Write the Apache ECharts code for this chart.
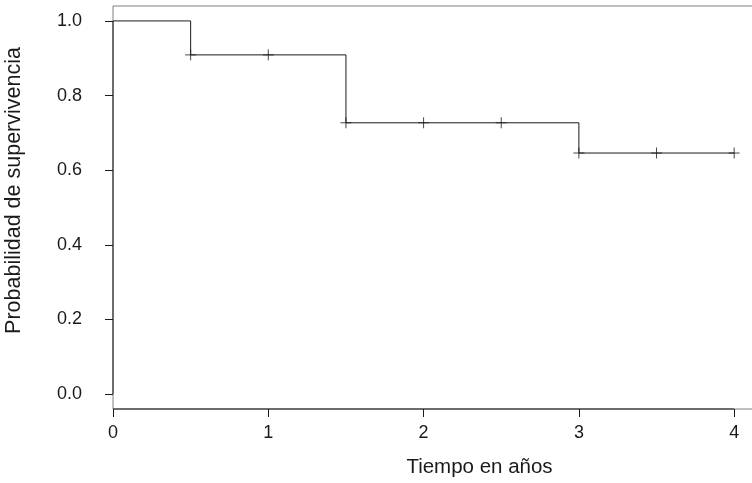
<!DOCTYPE html>
<html>
<head>
<meta charset="utf-8">
<script src="https://cdn.jsdelivr.net/npm/echarts@6/dist/echarts.min.js"></script>
<style>
  html, body { margin: 0; padding: 0; background: #fff; }
  #chart { width: 752px; height: 483px; }
</style>
</head>
<body>
<div id="chart"></div>
<script>
// Kaplan–Meier estimate: times where the survival curve steps down
const stepTimes = [0, 0.5, 1.5, 3, 4];
const stepSurvival = [1.0, 0.909, 0.727, 0.646, 0.646];

// Censored observations (drawn as "+")
const censorTimes = [0.5, 1, 1.5, 2, 2.5, 3, 3.5, 4];
const censorSurvival = [0.909, 0.909, 0.727, 0.727, 0.727, 0.646, 0.646, 0.646];

// Axis ticks
const xTicks = [0, 1, 2, 3, 4];
const yTicks = [0, 0.2, 0.4, 0.6, 0.8, 1.0];

const FONT = '"Liberation Sans", Arial, sans-serif';
const INK = '#1a1a1a';

const stepData = stepTimes.map((t, i) => [t, stepSurvival[i]]);
const censorData = censorTimes.map((t, i) => [t, censorSurvival[i]]);

const yMin = -0.04, yMax = 1.04;
const xMin = 0, xMax = 4.72;

const chart = echarts.init(document.getElementById('chart'), null, { renderer: 'canvas' });
chart.setOption({
  animation: false,
  backgroundColor: '#fff',
  grid: {
    left: 113, top: 6, right: -94, height: 403,
    containLabel: false, outerBoundsMode: 'none',
    show: true, borderColor: '#808080', borderWidth: 1, backgroundColor: 'transparent'
  },
  xAxis: {
    type: 'value', min: xMin, max: xMax,
    name: 'Tiempo en años', nameLocation: 'middle', nameGap: 48,
    nameTextStyle: { fontFamily: FONT, fontSize: 20.5, color: INK },
    axisLine: { show: false, onZero: false },
    splitLine: { show: false },
    axisTick: { show: true, length: 8, customValues: xTicks, lineStyle: { color: INK, width: 1 } },
    axisLabel: { customValues: xTicks, margin: 15, fontFamily: FONT, fontSize: 18, color: INK,
      formatter: v => String(v) }
  },
  yAxis: {
    type: 'value', min: yMin, max: yMax,
    name: 'Probabilidad de supervivencia', nameLocation: 'middle', nameGap: 88,
    nameTextStyle: { fontFamily: FONT, fontSize: 21.5, color: INK, padding: [0, 0, 0, 34] },
    axisLine: { show: false, onZero: false },
    splitLine: { show: false },
    axisTick: { show: true, length: 8, customValues: yTicks, lineStyle: { color: INK, width: 1 } },
    axisLabel: { customValues: yTicks, margin: 31, fontFamily: FONT, fontSize: 18, color: INK,
      formatter: v => v.toFixed(1) }
  },
  series: [
    {
      // bottom axis line spanning the labelled ticks
      type: 'line', silent: true, clip: false, symbol: 'none',
      data: [[xTicks[0], yMin], [xTicks[xTicks.length - 1], yMin]],
      lineStyle: { color: INK, width: 1 }
    },
    {
      // left axis line spanning the labelled ticks
      type: 'line', silent: true, clip: false, symbol: 'none',
      data: [[xMin, yTicks[0]], [xMin, yTicks[yTicks.length - 1]]],
      lineStyle: { color: INK, width: 1 }
    },
    {
      type: 'line', step: 'end', symbol: 'none', silent: true,
      data: stepData,
      lineStyle: { color: INK, width: 1 }
    },
    {
      type: 'scatter', silent: true,
      data: censorData,
      symbol: 'path://M0,-5L0,5M-5,0L5,0',
      symbolSize: 11,
      itemStyle: { color: 'none', borderColor: INK, borderWidth: 1 }
    }
  ]
});
</script>
</body>
</html>
